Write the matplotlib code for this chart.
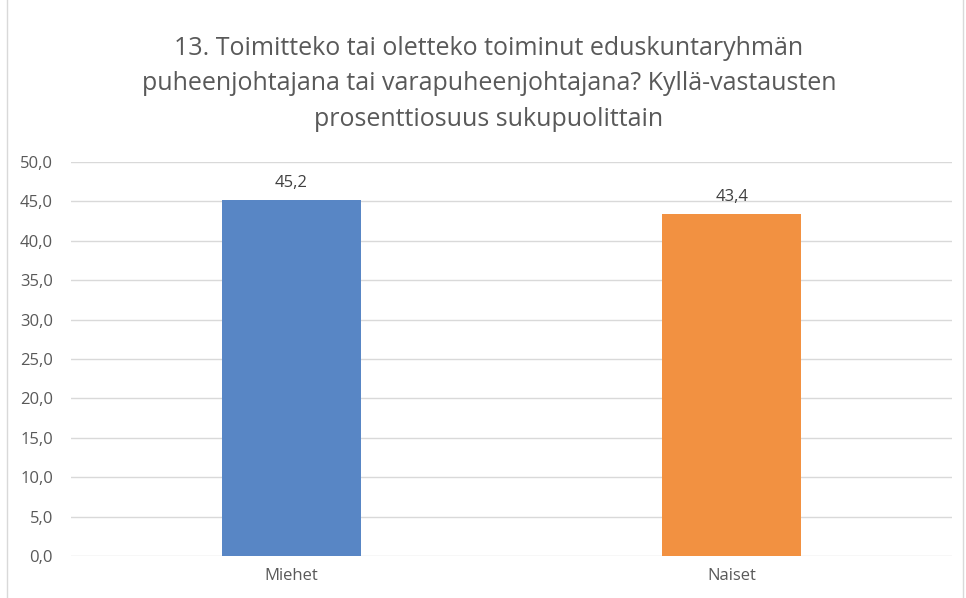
import matplotlib
matplotlib.use('Agg')
from matplotlib import pyplot as plt
from matplotlib.patches import Rectangle
import numpy as np

categories = ['Miehet', 'Naiset']
values = [45.2, 43.4]
bar_colors = ['#5886C5', '#F29141']
title = ('13. Toimitteko tai oletteko toiminut eduskuntaryhmän\n'
         'puheenjohtajana tai varapuheenjohtajana? Kyllä-vastausten\n'
         'prosenttiosuus sukupuolittain')

plt.rcParams['font.family'] = ['Open Sans', 'DejaVu Sans']
text_col = '#595959'

fig = plt.figure(figsize=(9.66, 5.98), dpi=100)
ax = fig.add_axes([71 / 966, 1 - 556 / 598, 881 / 966, 394 / 598])

x = np.arange(len(categories))
bars = ax.bar(x, values, 0.315, color=bar_colors, zorder=3)
for b, v in zip(bars, values):
    ax.text(b.get_x() + b.get_width() / 2, v + 1.1, f'{v:.1f}'.replace('.', ','),
            ha='center', va='bottom', fontsize=12, color='#404040')

ax.set_xlim(-0.5, 1.5)
ax.set_ylim(0, 50)
ax.set_yticks(np.arange(0, 51, 5))
ax.set_yticklabels([f'{t:.1f}'.replace('.', ',') for t in np.arange(0, 51, 5)])
ax.set_xticks(x)
ax.set_xticklabels(categories)
ax.tick_params(length=0, labelsize=12, colors=text_col)
ax.tick_params(axis='y', pad=13)
ax.tick_params(axis='x', pad=9)
ax.grid(axis='y', color='#D9D9D9', linewidth=1, zorder=0)
for s in ax.spines.values():
    s.set_visible(False)

fig.text(489 / 966, 1 - 84 / 598, title, ha='center', va='center', fontsize=18,
         color=text_col, linespacing=1.55)

fig.patches.append(Rectangle((7 / 966, -0.01), 956 / 966, 1.02, transform=fig.transFigure,
                             fill=False, edgecolor='#D9D9D9', linewidth=1))

fig.savefig('out.png', dpi=100)
